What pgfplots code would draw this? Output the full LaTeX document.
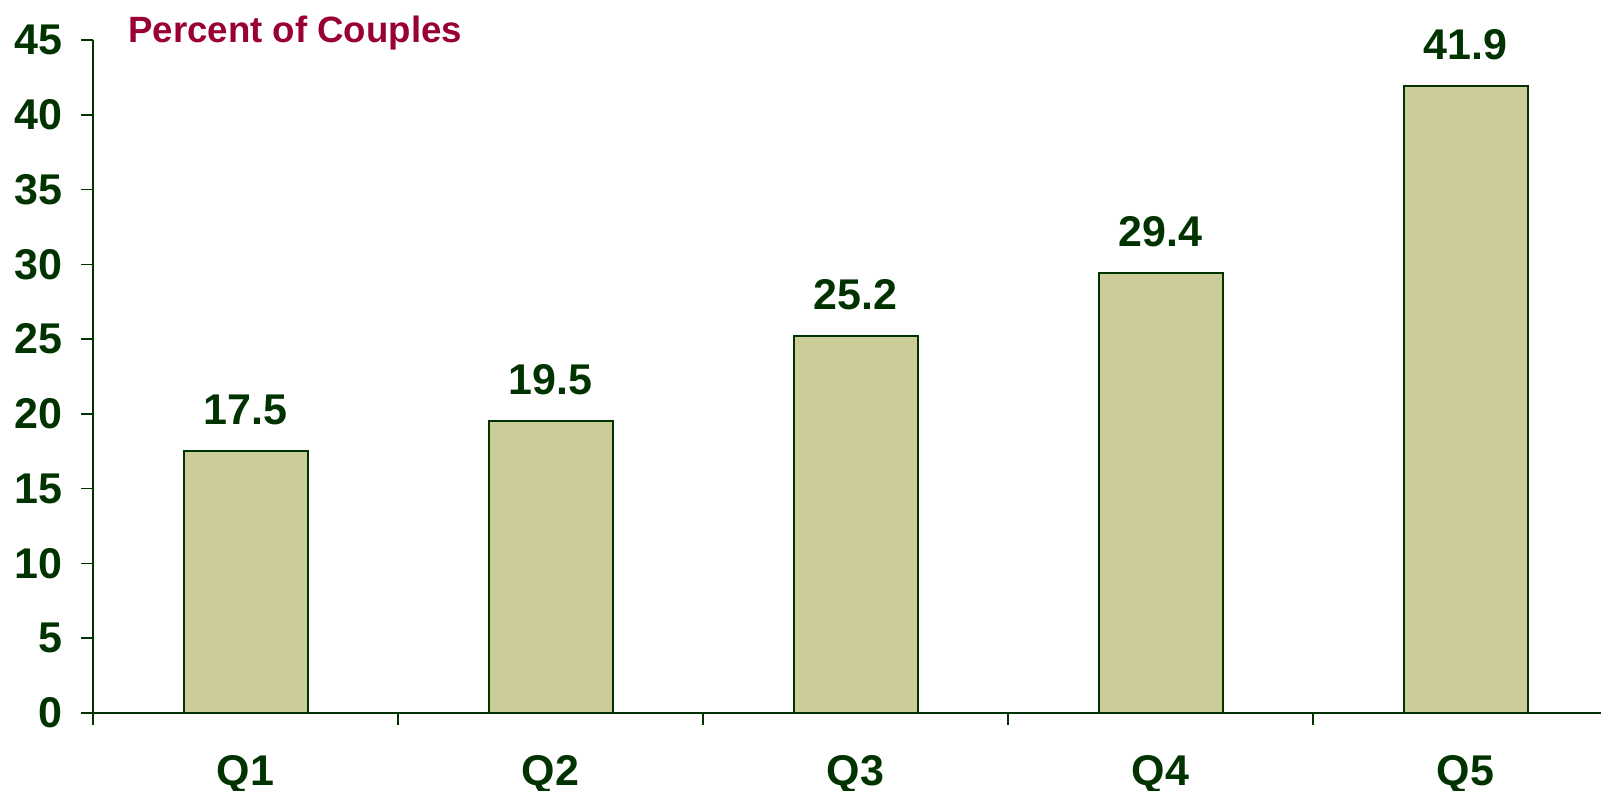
\documentclass[border=0pt]{standalone}
\usepackage{fontspec}
\setmainfont{Liberation Sans}
\usepackage{pgfplots}
\pgfplotsset{compat=1.18}
\definecolor{dkgreen}{HTML}{003300}
\definecolor{barfill}{HTML}{CCCC99}
\definecolor{titlered}{HTML}{990033}
\begin{document}
\begin{tikzpicture}
\begin{axis}[
    scale only axis,
    width=754pt, height=336.5pt,
    xmin=-0.5, xmax=4.444,
    ymin=0, ymax=45,
    axis x line=bottom, axis y line=left,
    axis line style={-, dkgreen, line width=0.8pt},
    xtick={0,1,2,3,4},
    xticklabels={Q1,Q2,Q3,Q4,Q5},
    minor xtick={-0.5,0.5,1.5,2.5,3.5},
    ytick={0,5,...,45},
    tick align=outside,
    major tick length=6pt, minor tick length=6pt,
    tick style={dkgreen, line width=0.8pt},
    major x tick style={draw=none},
    /pgf/number format/assume math mode=true,
    ticklabel style={font=\fontsize{21.5}{25}\selectfont\bfseries, text=dkgreen},
    xticklabel style={yshift=-11.5pt},
    yticklabel style={xshift=-6pt},
    ybar, bar width=62pt,
    nodes near coords,
    nodes near coords style={font=\fontsize{21.5}{25}\selectfont\bfseries, text=dkgreen, yshift=9.5pt},
    point meta=explicit symbolic,
    clip=false,
]
\addplot[fill=barfill, draw=dkgreen, line width=1pt] coordinates {
    (0,17.5) [17.5]
    (1,19.5) [19.5]
    (2,25.2) [25.2]
    (3,29.4) [29.4]
    (4,41.9) [41.9]
};
\node[anchor=base west, inner sep=0, text=titlered, font=\fontsize{18.3}{21}\selectfont\bfseries]
    at ([xshift=17.5pt, yshift=-1.5pt]rel axis cs:0,1) {Percent of Couples};
\end{axis}
\pgfresetboundingbox
\useasboundingbox ([xshift=-46.5pt, yshift=-39pt]current axis.south west) rectangle ([yshift=20pt]current axis.north east);
\end{tikzpicture}
\end{document}
